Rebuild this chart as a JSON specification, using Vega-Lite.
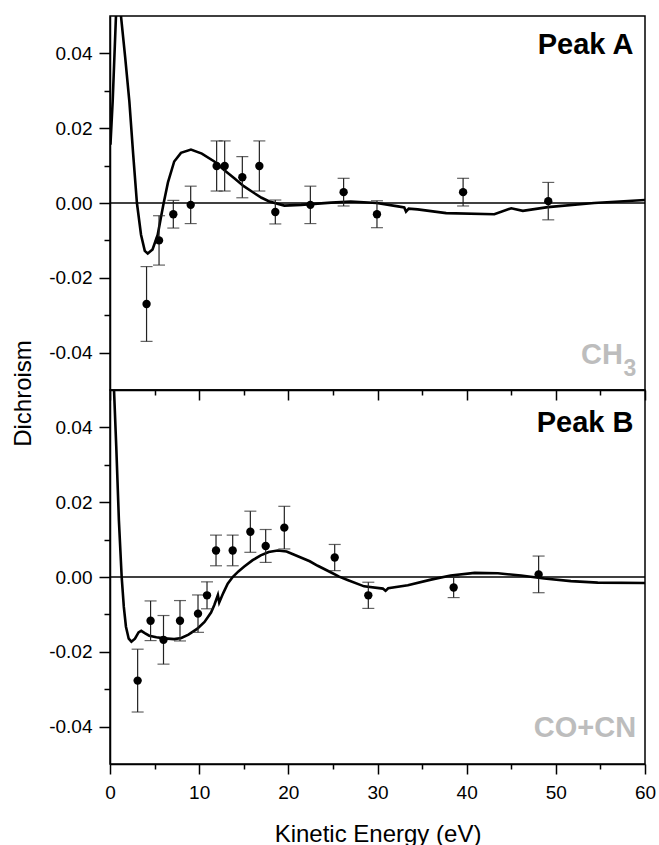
{
  "$schema": "https://vega.github.io/schema/vega-lite/v6.json",
  "padding": {"left": 10, "top": 15, "right": 5, "bottom": 5},
  "bounds": "flush",
  "spacing": 0,
  "background": "white",
  "config": {
    "view": {"stroke": "#000", "strokeWidth": 1.5},
    "axis": {
      "grid": false, "domainColor": "#000", "domainWidth": 1.5,
      "tickColor": "#000", "tickWidth": 1.5, "labelColor": "#000",
      "labelFont": "Liberation Sans", "labelFontSize": 19, "labelFlush": false,
      "titleFont": "Liberation Sans", "titleFontSize": 24, "titleFontWeight": "normal", "titleColor": "#000"
    },
    "text": {"font": "Liberation Sans"}
  },
  "datasets": {
    "topCurve": [
      {"E":0.05,"v":0.0156},{"E":0.3,"v":0.0272},{"E":0.67,"v":0.05},{"E":0.85,"v":0.058},{"E":1.0,"v":0.058},{"E":1.23,"v":0.05},{"E":1.7,"v":0.039},{"E":2.17,"v":0.0272},{"E":2.6,"v":0.013},{"E":3.02,"v":0.0},{"E":3.48,"v":-0.0085},{"E":3.9,"v":-0.0128},{"E":4.23,"v":-0.0135},{"E":4.77,"v":-0.0124},{"E":5.35,"v":-0.0085},{"E":5.7,"v":-0.004},{"E":6.02,"v":0.0},{"E":6.5,"v":0.0055},{"E":7.2,"v":0.0111},{"E":7.96,"v":0.0134},{"E":9.08,"v":0.0143},{"E":10.3,"v":0.0132},{"E":11.7,"v":0.0111},{"E":12.8,"v":0.0088},{"E":13.94,"v":0.0066},{"E":15.0,"v":0.0045},{"E":16.2,"v":0.0026},{"E":17.0,"v":0.0014},{"E":17.87,"v":0.0004},{"E":19.55,"v":-0.0007},{"E":21.43,"v":-0.0005},{"E":24.8,"v":0.0001},{"E":27.0,"v":0.0004},{"E":29.9,"v":0.0},{"E":32.3,"v":-0.0009},{"E":33.0,"v":-0.0012},{"E":33.2,"v":-0.0023},{"E":33.5,"v":-0.0015},{"E":34.5,"v":-0.0017},{"E":37.7,"v":-0.0027},{"E":43.1,"v":-0.003},{"E":45.0,"v":-0.0014},{"E":46.3,"v":-0.0021},{"E":49.1,"v":-0.0011},{"E":54.3,"v":0.0},{"E":60,"v":0.0008}
    ],
    "botCurve": [
      {"E":0.3,"v":0.065},{"E":0.45,"v":0.05},{"E":0.7,"v":0.035},{"E":1.0,"v":0.015},{"E":1.31,"v":0.0},{"E":1.55,"v":-0.008},{"E":1.79,"v":-0.0133},{"E":2.1,"v":-0.0165},{"E":2.4,"v":-0.0173},{"E":2.8,"v":-0.0165},{"E":3.2,"v":-0.0148},{"E":3.5,"v":-0.0144},{"E":3.9,"v":-0.015},{"E":4.4,"v":-0.0157},{"E":5.2,"v":-0.0161},{"E":6.1,"v":-0.0164},{"E":7.2,"v":-0.0166},{"E":8.0,"v":-0.0163},{"E":8.8,"v":-0.0154},{"E":9.8,"v":-0.0138},{"E":10.6,"v":-0.012},{"E":11.33,"v":-0.0095},{"E":11.7,"v":-0.0075},{"E":12.1,"v":-0.0048},{"E":12.25,"v":-0.0068},{"E":12.7,"v":-0.0043},{"E":13.2,"v":-0.0018},{"E":13.76,"v":0.0},{"E":14.4,"v":0.0015},{"E":15.06,"v":0.0028},{"E":16.0,"v":0.0045},{"E":16.9,"v":0.0058},{"E":17.8,"v":0.0067},{"E":18.8,"v":0.0071},{"E":19.8,"v":0.0068},{"E":20.6,"v":0.006},{"E":21.4,"v":0.0052},{"E":22.4,"v":0.0042},{"E":23.3,"v":0.003},{"E":24.8,"v":0.0012},{"E":25.7,"v":0.0001},{"E":26.64,"v":-0.0008},{"E":28.5,"v":-0.0025},{"E":30.6,"v":-0.0031},{"E":30.9,"v":-0.0037},{"E":31.2,"v":-0.003},{"E":33.4,"v":-0.0022},{"E":36.0,"v":-0.0007},{"E":38.2,"v":0.0004},{"E":40.9,"v":0.0011},{"E":43.5,"v":0.001},{"E":46.1,"v":0.0004},{"E":48.7,"v":-0.0004},{"E":51.7,"v":-0.0011},{"E":54.7,"v":-0.0015},{"E":60,"v":-0.0016}
    ],
    "topPts": [
      {"E":4.1,"v":-0.027,"err":0.010},{"E":5.5,"v":-0.010,"err":0.0066},{"E":7.1,"v":-0.003,"err":0.0037},{"E":9.05,"v":-0.0005,"err":0.005},{"E":11.96,"v":0.0099,"err":0.0067},{"E":12.86,"v":0.0099,"err":0.0067},{"E":14.84,"v":0.0069,"err":0.0055},{"E":16.75,"v":0.0099,"err":0.0067},{"E":18.54,"v":-0.0024,"err":0.0032},{"E":22.47,"v":-0.0005,"err":0.005},{"E":26.2,"v":0.0029,"err":0.0037},{"E":29.94,"v":-0.003,"err":0.0036},{"E":39.6,"v":0.0029,"err":0.0037},{"E":49.15,"v":0.0005,"err":0.005}
    ],
    "botPts": [
      {"E":3.1,"v":-0.0277,"err":0.0084},{"E":4.55,"v":-0.0117,"err":0.0053},{"E":6.0,"v":-0.0168,"err":0.0065},{"E":7.85,"v":-0.0117,"err":0.0054},{"E":9.87,"v":-0.0098,"err":0.005},{"E":10.88,"v":-0.0049,"err":0.0036},{"E":11.89,"v":0.0071,"err":0.0041},{"E":13.76,"v":0.0071,"err":0.0041},{"E":15.74,"v":0.0121,"err":0.0055},{"E":17.46,"v":0.0083,"err":0.0044},{"E":19.55,"v":0.0132,"err":0.0057},{"E":25.2,"v":0.0052,"err":0.0035},{"E":28.97,"v":-0.0049,"err":0.0035},{"E":38.54,"v":-0.0028,"err":0.0027},{"E":48.07,"v":0.0007,"err":0.0049}
    ],
    "zero": [{"v": 0}],
    "topLabels": [{"E": 58.7, "v": 0.0398, "label": "Peak A"}],
    "topSpecies": [{"E": 57.53, "v": -0.043, "label": "CH"}],
    "topSub": [{"E": 57.6, "v": -0.0462, "label": "3"}],
    "botLabels": [{"E": 58.7, "v": 0.0389, "label": "Peak B"}],
    "botSpecies": [{"E": 59.0, "v": -0.0427, "label": "CO+CN"}]
  },
  "vconcat": [
    {
      "width": 535, "height": 374,
      "resolve": {"axis": {"x": "independent", "y": "independent"}},
      "layer": [
        {
          "data": {"name": "zero"},
          "mark": {"type": "rule", "color": "#000", "strokeWidth": 1.4},
          "encoding": {"y": {"field": "v", "type": "quantitative", "scale": {"domain": [-0.05, 0.05], "nice": false, "zero": false}, "axis": null}}
        },
        {
          "data": {"name": "topCurve"},
          "mark": {"type": "line", "color": "#000", "strokeWidth": 2.6, "clip": true},
          "encoding": {
            "x": {"field": "E", "type": "quantitative", "scale": {"domain": [0, 60], "nice": false, "zero": false},
                  "axis": {"orient": "bottom", "values": [0,10,20,30,40,50,60], "tickSize": 10, "labels": false, "title": null}},
            "y": {"field": "v", "type": "quantitative", "scale": {"domain": [-0.05, 0.05], "nice": false, "zero": false},
                  "axis": {"orient": "left", "values": [-0.04,-0.02,0,0.02,0.04], "tickSize": 11, "labelPadding": 7,
                           "labelExpr": "datum.value < 0 ? '-' + format(-datum.value, '.2f') : format(datum.value, '.2f')",
                           "title": "Dichroism", "titleX": -80, "titleY": 377, "titleAngle": 270, "titleAlign": "center", "titleBaseline": "alphabetic"}}
          }
        },
        {
          "data": {"name": "topPts"},
          "mark": {"type": "errorbar", "color": "#222", "thickness": 1.2, "ticks": {"size": 12, "thickness": 1.2, "color": "#222"}},
          "encoding": {
            "x": {"field": "E", "type": "quantitative", "scale": {"domain": [0, 60], "nice": false, "zero": false}, "axis": null},
            "y": {"field": "v", "type": "quantitative", "scale": {"domain": [-0.05, 0.05], "nice": false, "zero": false}, "axis": null},
            "yError": {"field": "err"}
          }
        },
        {
          "data": {"name": "topPts"},
          "mark": {"type": "circle", "color": "#000", "size": 70, "opacity": 1},
          "encoding": {
            "x": {"field": "E", "type": "quantitative", "scale": {"domain": [0, 60], "nice": false, "zero": false},
                  "axis": {"orient": "bottom", "values": [5,15,25,35,45,55], "tickSize": 5, "labels": false, "title": null, "domain": false}},
            "y": {"field": "v", "type": "quantitative", "scale": {"domain": [-0.05, 0.05], "nice": false, "zero": false},
                  "axis": {"orient": "left", "values": [-0.03,-0.01,0.01,0.03], "tickSize": 6, "labels": false, "title": null, "domain": false}}
          }
        },
        {
          "data": {"name": "topLabels"},
          "mark": {"type": "text", "align": "right", "baseline": "alphabetic", "fontSize": 29, "fontWeight": "bold", "color": "#000"},
          "encoding": {
            "x": {"field": "E", "type": "quantitative", "scale": {"domain": [0, 60], "nice": false, "zero": false}, "axis": null},
            "y": {"field": "v", "type": "quantitative", "scale": {"domain": [-0.05, 0.05], "nice": false, "zero": false}, "axis": null},
            "text": {"field": "label"}
          }
        },
        {
          "data": {"name": "topSpecies"},
          "mark": {"type": "text", "align": "right", "baseline": "alphabetic", "fontSize": 29, "fontWeight": "bold", "color": "#bdbdbd"},
          "encoding": {
            "x": {"field": "E", "type": "quantitative", "scale": {"domain": [0, 60], "nice": false, "zero": false}, "axis": null},
            "y": {"field": "v", "type": "quantitative", "scale": {"domain": [-0.05, 0.05], "nice": false, "zero": false}, "axis": null},
            "text": {"field": "label"}
          }
        },
        {
          "data": {"name": "topSub"},
          "mark": {"type": "text", "align": "left", "baseline": "alphabetic", "fontSize": 23, "fontWeight": "bold", "color": "#bdbdbd"},
          "encoding": {
            "x": {"field": "E", "type": "quantitative", "scale": {"domain": [0, 60], "nice": false, "zero": false}, "axis": null},
            "y": {"field": "v", "type": "quantitative", "scale": {"domain": [-0.05, 0.05], "nice": false, "zero": false}, "axis": null},
            "text": {"field": "label"}
          }
        }
      ]
    },
    {
      "width": 535, "height": 374,
      "resolve": {"axis": {"x": "independent", "y": "independent"}},
      "layer": [
        {
          "data": {"name": "zero"},
          "mark": {"type": "rule", "color": "#000", "strokeWidth": 1.4},
          "encoding": {"y": {"field": "v", "type": "quantitative", "scale": {"domain": [-0.05, 0.05], "nice": false, "zero": false}, "axis": null}}
        },
        {
          "data": {"name": "botCurve"},
          "mark": {"type": "line", "color": "#000", "strokeWidth": 2.6, "clip": true},
          "encoding": {
            "x": {"field": "E", "type": "quantitative", "scale": {"domain": [0, 60], "nice": false, "zero": false},
                  "axis": {"orient": "bottom", "values": [0,10,20,30,40,50,60], "tickSize": 10, "labelPadding": 9, "format": "d",
                           "title": "Kinetic Energy (eV)", "titleY": 77, "titleBaseline": "alphabetic"}},
            "y": {"field": "v", "type": "quantitative", "scale": {"domain": [-0.05, 0.05], "nice": false, "zero": false},
                  "axis": {"orient": "left", "values": [-0.04,-0.02,0,0.02,0.04], "tickSize": 11, "labelPadding": 7,
                           "labelExpr": "datum.value < 0 ? '-' + format(-datum.value, '.2f') : format(datum.value, '.2f')",
                           "title": null}}
          }
        },
        {
          "data": {"name": "botPts"},
          "mark": {"type": "errorbar", "color": "#222", "thickness": 1.2, "ticks": {"size": 12, "thickness": 1.2, "color": "#222"}},
          "encoding": {
            "x": {"field": "E", "type": "quantitative", "scale": {"domain": [0, 60], "nice": false, "zero": false}, "axis": null},
            "y": {"field": "v", "type": "quantitative", "scale": {"domain": [-0.05, 0.05], "nice": false, "zero": false}, "axis": null},
            "yError": {"field": "err"}
          }
        },
        {
          "data": {"name": "botPts"},
          "mark": {"type": "circle", "color": "#000", "size": 70, "opacity": 1},
          "encoding": {
            "x": {"field": "E", "type": "quantitative", "scale": {"domain": [0, 60], "nice": false, "zero": false},
                  "axis": {"orient": "bottom", "values": [5,15,25,35,45,55], "tickSize": 5, "labels": false, "title": null, "domain": false}},
            "y": {"field": "v", "type": "quantitative", "scale": {"domain": [-0.05, 0.05], "nice": false, "zero": false},
                  "axis": {"orient": "left", "values": [-0.03,-0.01,0.01,0.03], "tickSize": 6, "labels": false, "title": null, "domain": false}}
          }
        },
        {
          "data": {"name": "botLabels"},
          "mark": {"type": "text", "align": "right", "baseline": "alphabetic", "fontSize": 29, "fontWeight": "bold", "color": "#000"},
          "encoding": {
            "x": {"field": "E", "type": "quantitative", "scale": {"domain": [0, 60], "nice": false, "zero": false}, "axis": null},
            "y": {"field": "v", "type": "quantitative", "scale": {"domain": [-0.05, 0.05], "nice": false, "zero": false}, "axis": null},
            "text": {"field": "label"}
          }
        },
        {
          "data": {"name": "botSpecies"},
          "mark": {"type": "text", "align": "right", "baseline": "alphabetic", "fontSize": 29, "fontWeight": "bold", "color": "#bdbdbd"},
          "encoding": {
            "x": {"field": "E", "type": "quantitative", "scale": {"domain": [0, 60], "nice": false, "zero": false}, "axis": null},
            "y": {"field": "v", "type": "quantitative", "scale": {"domain": [-0.05, 0.05], "nice": false, "zero": false}, "axis": null},
            "text": {"field": "label"}
          }
        }
      ]
    }
  ]
}
